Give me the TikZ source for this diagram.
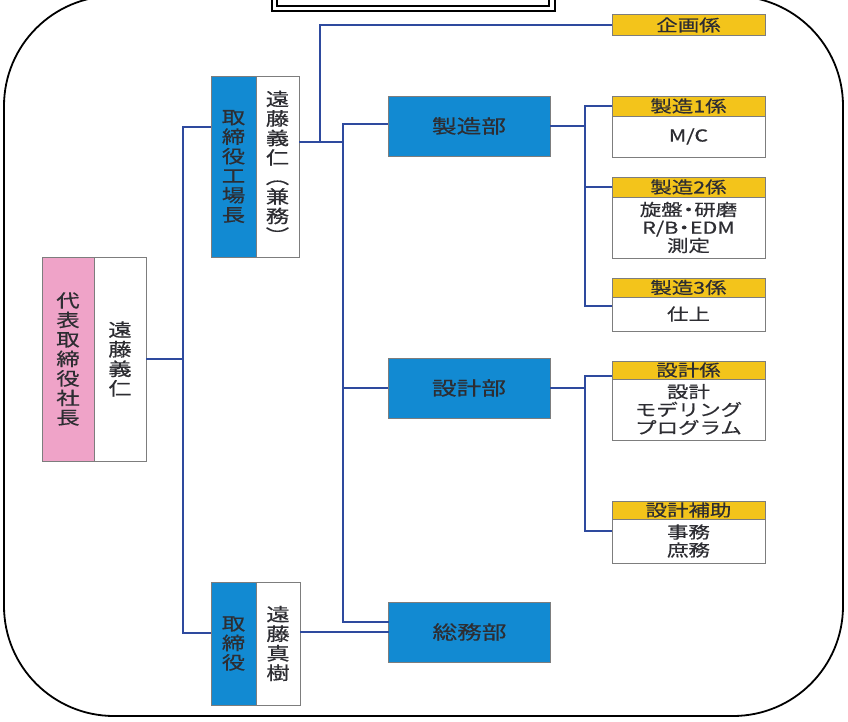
\documentclass[tikz,border=0pt]{standalone}
\usepackage{fontspec}
\newfontfamily\jp[FakeStretch=1.3, FakeBold=0.5]{Noto Sans CJK JP}
\definecolor{bluec}{RGB}{18,138,210}
\definecolor{pinkc}{RGB}{239,163,200}
\definecolor{yellowc}{RGB}{243,196,27}
\definecolor{linec}{RGB}{46,74,158}
\definecolor{bordergray}{RGB}{125,125,125}
\definecolor{textgray}{RGB}{45,45,50}
\tikzset{
  bx/.style={draw=bordergray, line width=0.9pt, inner sep=0pt, outer sep=0pt, text=textgray, align=center},
  vt/.style={font=\jp\fontsize{18}{19.5}\selectfont},
  pinkbox/.style={bx, vt, fill=pinkc, minimum width=52pt, minimum height=204pt},
  namebox/.style={bx, vt, fill=white},
  bluebox/.style={bx, vt, fill=bluec},
  deptbox/.style={bx, fill=bluec, minimum width=162pt, minimum height=60pt, font=\jp\fontsize{19}{21}\selectfont},
  hdr/.style={bx, fill=yellowc, minimum width=153pt, font=\jp\fontsize{16.5}{18}\selectfont},
  bodybox/.style={bx, fill=white, minimum width=153pt, font=\jp\fontsize{16.5}{18}\selectfont},
  conn/.style={draw=linec, line width=1.8pt},
}
\begin{document}
\begin{tikzpicture}[x=1pt,y=-1pt]
\useasboundingbox (0,0) rectangle (848,722);
\fill[white] (0,0) rectangle (848,722);
% outer rounded frame
\draw[line width=1.8pt, rounded corners=110pt] (4,-4) rectangle (843,716);
% title double frame (cut at top)
\draw[line width=2pt] (272,-30) rectangle (555,11);
\draw[line width=1.2pt] (277,-30) rectangle (549,6);

% president
\node[pinkbox] (pt) at (68,359) {代\\表\\取\\締\\役\\社\\長};
\node[namebox, minimum width=52pt, minimum height=204pt] (pn) at (120,359) {遠\\藤\\義\\仁};

% factory manager
\node[bluebox, minimum width=45pt, minimum height=181pt] (ft) at (233.5,166.5) {取\\締\\役\\工\\場\\長};
\node[namebox, minimum width=43pt, minimum height=181pt] (fn) at (277.5,166.5) {遠\\藤\\義\\仁\\︵\\兼\\務\\︶};

% director
\node[bluebox, minimum width=45pt, minimum height=123pt] (dt) at (233.5,643.5) {取\\締\\役};
\node[namebox, minimum width=44pt, minimum height=123pt] (dn) at (278,643.5) {遠\\藤\\真\\樹};

% departments
\node[deptbox] (seizo) at (469,126) {製造部};
\node[deptbox] (sekkei) at (469,388) {設計部};
\node[deptbox] (somu) at (469.5,632) {総務部};

% sections
\node[hdr, minimum height=21pt] (kika) at (688.5,25) {企画係};
\node[hdr, minimum height=20pt] (s1h) at (688.5,106) {製造1係};
\node[bodybox, minimum height=41pt] (s1b) at (688.5,136.5) {M/C};
\node[hdr, minimum height=20pt] (s2h) at (688.5,187) {製造2係};
\node[bodybox, minimum height=61pt] (s2b) at (688.5,227.5) {旋盤\kern-0.3em・\kern-0.3em研磨\\R/B\kern-0.3em・\kern-0.3emEDM\\測定};
\node[hdr, minimum height=19pt] (s3h) at (688.5,287.5) {製造3係};
\node[bodybox, minimum height=34pt] (s3b) at (688.5,314) {仕上};
\node[hdr, minimum height=18pt] (k1h) at (688.5,370) {設計係};
\node[bodybox, minimum height=61pt] (k1b) at (688.5,409.5) {設計\\モデリング\\プログラム};
\node[hdr, minimum height=18pt] (k2h) at (688.5,510) {設計補助};
\node[bodybox, minimum height=44pt] (k2b) at (688.5,541) {事務\\庶務};

% junction coordinates
\coordinate (j1) at (183,127);
\coordinate (j2) at (183,633);
\coordinate (k1) at (320,142);
\coordinate (k2) at (343,142);
\coordinate (d1) at (343,124);
\coordinate (d2) at (343,622);
\coordinate (b1) at (585,106);
\coordinate (b3) at (585,306);
\coordinate (c1) at (585,376);
\coordinate (c2) at (585,531);

% connectors
\draw[conn] (pn.east) -- (pn.east -| j1);
\draw[conn] (ft.west |- j1) -- (j1) -- (j2) -- (dt.west |- j2);
\draw[conn] (fn.east |- k1) -- (k2);
\draw[conn] (k1) -- (k1 |- kika.west) -- (kika.west);
\draw[conn] (seizo.west |- d1) -- (d1) -- (d2) -- (somu.west |- d2);
\draw[conn] (sekkei.west) -- (sekkei.west -| d1);
\draw[conn] (dn.east |- somu.west) -- (somu.west);
\draw[conn] (seizo.east) -- (seizo.east -| b1);
\draw[conn] (s1h.west) -- (b1) -- (b3) -- (s3b.west |- b3);
\draw[conn] (s2h.west) -- (s2h.west -| b1);
\draw[conn] (sekkei.east) -- (sekkei.east -| c1);
\draw[conn] (k1h.west |- c1) -- (c1) -- (c2) -- (k2b.west |- c2);
\end{tikzpicture}
\end{document}
